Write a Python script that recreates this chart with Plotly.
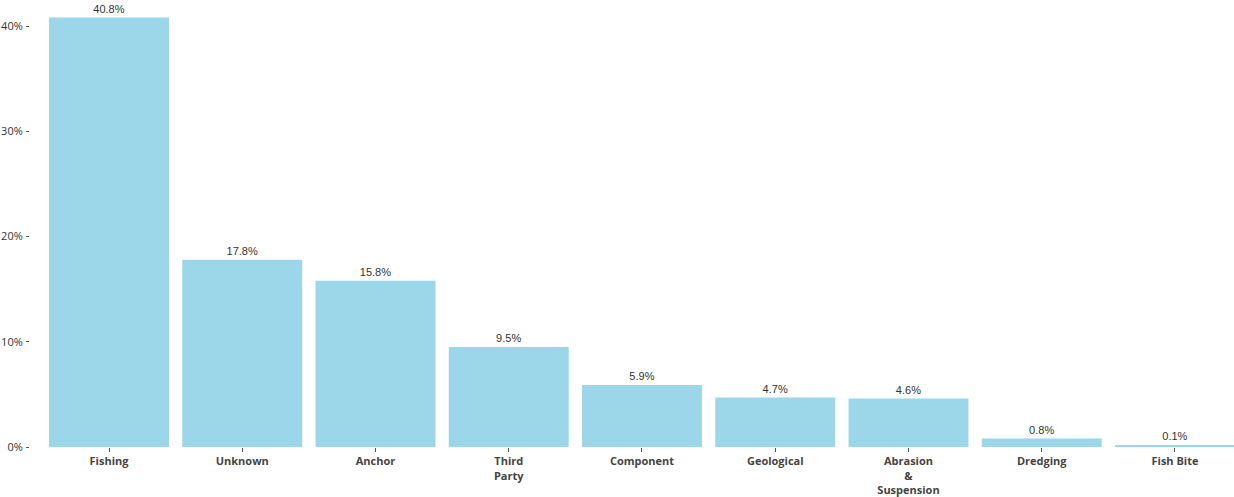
import plotly.graph_objects as go

categories = ["Fishing", "Unknown", "Anchor", "Third<br>Party", "Component",
              "Geological", "Abrasion<br>&<br>Suspension", "Dredging", "Fish Bite"]
values = [0.408, 0.178, 0.158, 0.095, 0.059, 0.047, 0.046, 0.008, 0.001]
labels = ["40.8%", "17.8%", "15.8%", "9.5%", "5.9%", "4.7%", "4.6%", "0.8%", "0.1%"]
ytick_vals = [0, 0.1, 0.2, 0.3, 0.4]
ytick_text = ["0%", "10%", "20%", "30%", "40%"]

fig = go.Figure(go.Bar(
    x=list(range(len(categories))), y=values,
    marker=dict(color="#9cd6e9", line=dict(width=0)),
    text=labels, textposition="outside", cliponaxis=False,
    textfont=dict(family="Liberation Sans Narrow, Arial Narrow, sans-serif", size=11, color="#333333"),
))

fig.update_layout(
    width=1234, height=497,
    margin=dict(l=30, r=0, t=0, b=50, autoexpand=False),
    paper_bgcolor="white", plot_bgcolor="white",
    bargap=0.1, showlegend=False,
    font=dict(family="Open Sans, sans-serif", size=11, color="#444444"),
)
fig.update_xaxes(
    range=[-0.593, 8.443], tickmode="array", tickvals=list(range(len(categories))),
    ticktext=[f"<b>{c}</b>" for c in categories],
    ticks="outside", ticklen=4, tickcolor="#555555", tickwidth=1,
    showline=False, showgrid=False, zeroline=False,
    tickfont=dict(family="Open Sans, sans-serif", size=11, color="#444444"),
)
fig.update_yaxes(
    range=[0, 0.4247], tickmode="array", tickvals=ytick_vals, ticktext=ytick_text,
    ticks="outside", ticklen=3, tickcolor="#555555", ticklabelstandoff=1,
    showline=False, showgrid=False, zeroline=False,
    tickfont=dict(family="Open Sans, sans-serif", size=11, color="#333333"),
)

fig.write_html("out.html", config={"displayModeBar": False},
               post_script="document.body.style.margin='0';document.body.style.overflow='hidden';")
